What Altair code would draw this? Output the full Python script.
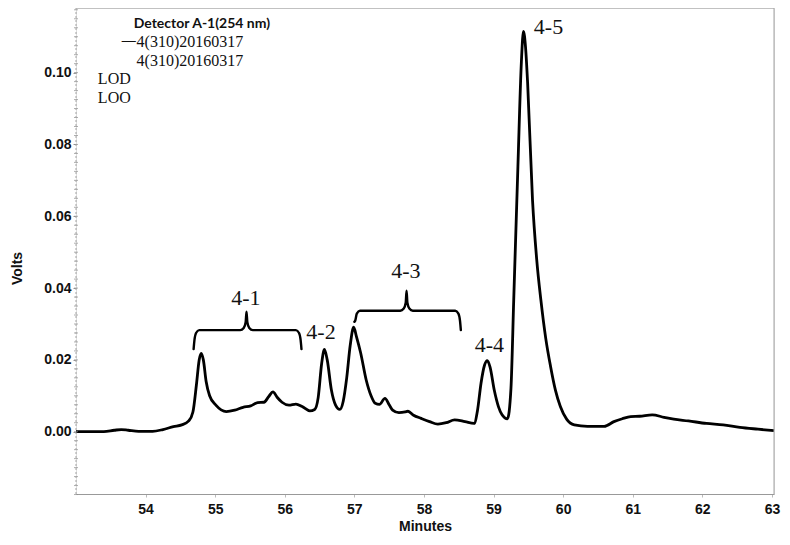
import altair as alt
import pandas as pd

# ---- chromatogram trace (minutes, volts) ----
minutes = [53.00, 53.40, 53.55, 53.65, 53.75, 53.90, 54.10, 54.25, 54.40, 54.52,
           54.62, 54.68, 54.73, 54.77, 54.80, 54.83, 54.87, 54.92, 55.01, 55.16,
           55.28, 55.40, 55.51, 55.61, 55.70, 55.77, 55.83, 55.89, 55.96, 56.06,
           56.16, 56.25, 56.36, 56.43, 56.48, 56.53, 56.57, 56.61, 56.67, 56.73,
           56.79, 56.84, 56.89, 56.94, 56.99, 57.03, 57.09, 57.17, 57.24, 57.30,
           57.36, 57.44, 57.50, 57.55, 57.64, 57.73, 57.77, 57.85, 57.96, 58.08,
           58.20, 58.32, 58.44, 58.59, 58.72, 58.77, 58.82, 58.87, 58.91, 58.95,
           59.01, 59.07, 59.12, 59.20, 59.25, 59.29, 59.35, 59.40, 59.43, 59.46,
           59.49, 59.56, 59.62, 59.68, 59.75, 59.82, 59.89, 59.96, 60.05, 60.16,
           60.35, 60.59, 60.73, 60.85, 60.97, 61.10, 61.28, 61.45, 61.59, 61.80,
           62.06, 62.30, 62.54, 62.80, 63.03]
volts = [0.0000, 0.0000, 0.0004, 0.0006, 0.0004, 0.0001, 0.0001, 0.0006, 0.0014, 0.0019,
         0.0030, 0.0055, 0.0130, 0.0200, 0.0218, 0.0200, 0.0140, 0.0100, 0.0074, 0.0056,
         0.0060, 0.0068, 0.0072, 0.0081, 0.0082, 0.0098, 0.0111, 0.0096, 0.0082, 0.0074,
         0.0077, 0.0070, 0.0058, 0.0062, 0.0095, 0.0190, 0.0229, 0.0200, 0.0116, 0.0074,
         0.0062, 0.0085, 0.0150, 0.0240, 0.0291, 0.0265, 0.0220, 0.0144, 0.0100, 0.0079,
         0.0076, 0.0093, 0.0075, 0.0060, 0.0053, 0.0055, 0.0057, 0.0046, 0.0037, 0.0028,
         0.0021, 0.0025, 0.0033, 0.0028, 0.0023, 0.0060, 0.0135, 0.0185, 0.0198, 0.0180,
         0.0116, 0.0070, 0.0048, 0.0036, 0.0120, 0.0367, 0.0738, 0.1030, 0.1115, 0.1070,
         0.0970, 0.0645, 0.0480, 0.0367, 0.0260, 0.0181, 0.0115, 0.0070, 0.0035, 0.0019,
         0.0015, 0.0015, 0.0028, 0.0036, 0.0042, 0.0043, 0.0047, 0.0040, 0.0035, 0.0030,
         0.0023, 0.0019, 0.0012, 0.0007, 0.0003]

# ---- peak labels ----
peak_labels = ["4-1", "4-2", "4-3", "4-4", "4-5"]
peak_label_t = [55.44, 56.52, 57.74, 58.94, 59.79]
peak_label_v = [0.0372, 0.0279, 0.0448, 0.0242, 0.1128]

# ---- brace annotations: start, end, centre, left end, right end, bar, cusp ----
brace_names = ["4-1", "4-3"]
brace_t0 = [54.69, 57.00]
brace_t1 = [56.24, 58.53]
brace_tc = [55.45, 57.75]
brace_v_left = [0.0230, 0.0306]
brace_v_right = [0.0230, 0.0283]
brace_v_bar = [0.0283, 0.0337]
brace_v_cusp = [0.0334, 0.0393]

# ---- legend block texts ----
legend_texts = ["Detector A-1(254 nm)", "4(310)20160317", "4(310)20160317", "LOD", "LOO"]
legend_t = [53.83, 53.871, 53.871, 53.314, 53.314]
legend_v = [0.1136, 0.1086, 0.1033, 0.0982, 0.0929]

x_ticks = [54, 55, 56, 57, 58, 59, 60, 61, 62, 63]
y_ticks = [0.00, 0.02, 0.04, 0.06, 0.08, 0.10]
y_minor = [round(-0.0175 + 0.0025 * i, 4) for i in range(55)]

X_DOM = [53.0, 63.03]
Y_DOM = [-0.01735, 0.1180]
W, H = 698, 486

trace = pd.DataFrame({"t": minutes, "v": volts})

rows = []
for k, name in enumerate(brace_names):
    t0, t1, tc = brace_t0[k], brace_t1[k], brace_tc[k]
    vl, vr, vb, vc = brace_v_left[k], brace_v_right[k], brace_v_bar[k], brace_v_cusp[k]
    pts = [
        (t0, vl), (t0 + 0.012, vb - 0.0028), (t0 + 0.035, vb - 0.0008), (t0 + 0.08, vb),
        (tc - 0.09, vb), (tc - 0.04, vb + 0.0006), (tc - 0.012, vb + 0.0022), (tc, vc),
        (tc + 0.012, vb + 0.0022), (tc + 0.04, vb + 0.0006), (tc + 0.09, vb),
        (t1 - 0.08, vb), (t1 - 0.035, vb - 0.0008), (t1 - 0.012, vb - 0.0028), (t1, vr),
    ]
    for i, (a, b) in enumerate(pts):
        rows.append({"g": name, "o": i, "t": a, "v": b})
braces = pd.DataFrame(rows)

peaks = pd.DataFrame({"lab": peak_labels, "t": peak_label_t, "v": peak_label_v})
leg = pd.DataFrame({"txt": legend_texts, "t": legend_t, "v": legend_v,
                    "kind": ["head", "ser", "ser", "ser", "ser"]})

x_enc = alt.X("t:Q", scale=alt.Scale(domain=X_DOM, nice=False, zero=False),
              axis=alt.Axis(values=x_ticks, title="Minutes", format="d", grid=False,
                            labelFont="Liberation Sans", labelFontWeight="bold", labelFontSize=14,
                            labelColor="#111", labelPadding=5, tickSize=3, tickColor="#bbb",
                            domainColor="#999", titleFont="Liberation Sans", titleFontWeight="bold",
                            titleFontSize=14, titleColor="#111", titlePadding=3))
y_enc = alt.Y("v:Q", scale=alt.Scale(domain=Y_DOM, nice=False, zero=False),
              axis=alt.Axis(values=y_ticks, title="Volts", grid=False, format=".2f",
                            labelFont="Liberation Sans", labelFontWeight="bold", labelFontSize=14,
                            labelColor="#111", labelPadding=2, tickSize=3, tickColor="#999",
                            domain=False, titleFont="Liberation Sans", titleFontWeight="bold",
                            titleFontSize=14, titleColor="#111", titleX=-66, titleY=260,
                            titleAngle=270, titleBaseline="top", titleAlign="center",
                            labelOverlap=False))

line = alt.Chart(trace).mark_line(color="black", strokeWidth=2.8, interpolate="monotone",
                                  strokeJoin="round").encode(x=x_enc, y=y_enc, order="t:Q")

minor = alt.Chart(pd.DataFrame({"v": y_minor})).mark_tick(
    color="#8c8c8c", size=4, thickness=1, orient="horizontal").encode(
    y="v:Q", x=alt.value(0))

left_edge = alt.Chart(pd.DataFrame({"a": [0]})).mark_rule(
    color="#a5a5a5", strokeWidth=1, strokeDash=[2, 2]).encode(
    x=alt.value(0), y=alt.value(0), y2=alt.value(H))
top_edge = alt.Chart(pd.DataFrame({"a": [0]})).mark_rule(color="#a5a5a5", strokeWidth=1).encode(
    y=alt.value(0), x=alt.value(0), x2=alt.value(W))
right_edge = alt.Chart(pd.DataFrame({"a": [0]})).mark_rule(color="#a5a5a5", strokeWidth=1).encode(
    x=alt.value(W), y=alt.value(0), y2=alt.value(H))

brace_layer = alt.Chart(braces).mark_line(color="black", strokeWidth=2.4, strokeJoin="round",
                                          strokeCap="round", interpolate="monotone").encode(
    x="t:Q", y="v:Q", detail="g:N", order="o:Q")

peak_text = alt.Chart(peaks).mark_text(font="Liberation Serif", fontSize=22, color="#111",
                                       align="center", baseline="middle").encode(
    x="t:Q", y="v:Q", text="lab:N")

head = alt.Chart(leg[leg.kind == "head"]).mark_text(font="Lato", fontWeight="bold", fontSize=14,
                                                    color="#111", align="left", baseline="middle").encode(
    x="t:Q", y="v:Q", text="txt:N")
ser = alt.Chart(leg[leg.kind == "ser"]).mark_text(font="Liberation Serif", fontSize=16,
                                                  color="#111", align="left", baseline="middle").encode(
    x="t:Q", y="v:Q", text="txt:N")
dash = alt.Chart(pd.DataFrame({"txt": ["—"], "t": [53.86], "v": [0.1088]})).mark_text(
    font="Liberation Serif", fontSize=14, fontWeight="bold", color="#111", align="right",
    baseline="middle").encode(x="t:Q", y="v:Q", text="txt:N")

chart = alt.layer(line, minor, left_edge, top_edge, right_edge, brace_layer, peak_text,
                  head, ser, dash).properties(
    width=W, height=H,
    autosize=alt.AutoSizeParams(type="none"),
    padding={"left": 68, "top": 0, "right": 8, "bottom": 43},
).configure_view(strokeWidth=0).configure(background="white")

chart.save("out.html", embed_options={"renderer": "svg", "actions": False})
